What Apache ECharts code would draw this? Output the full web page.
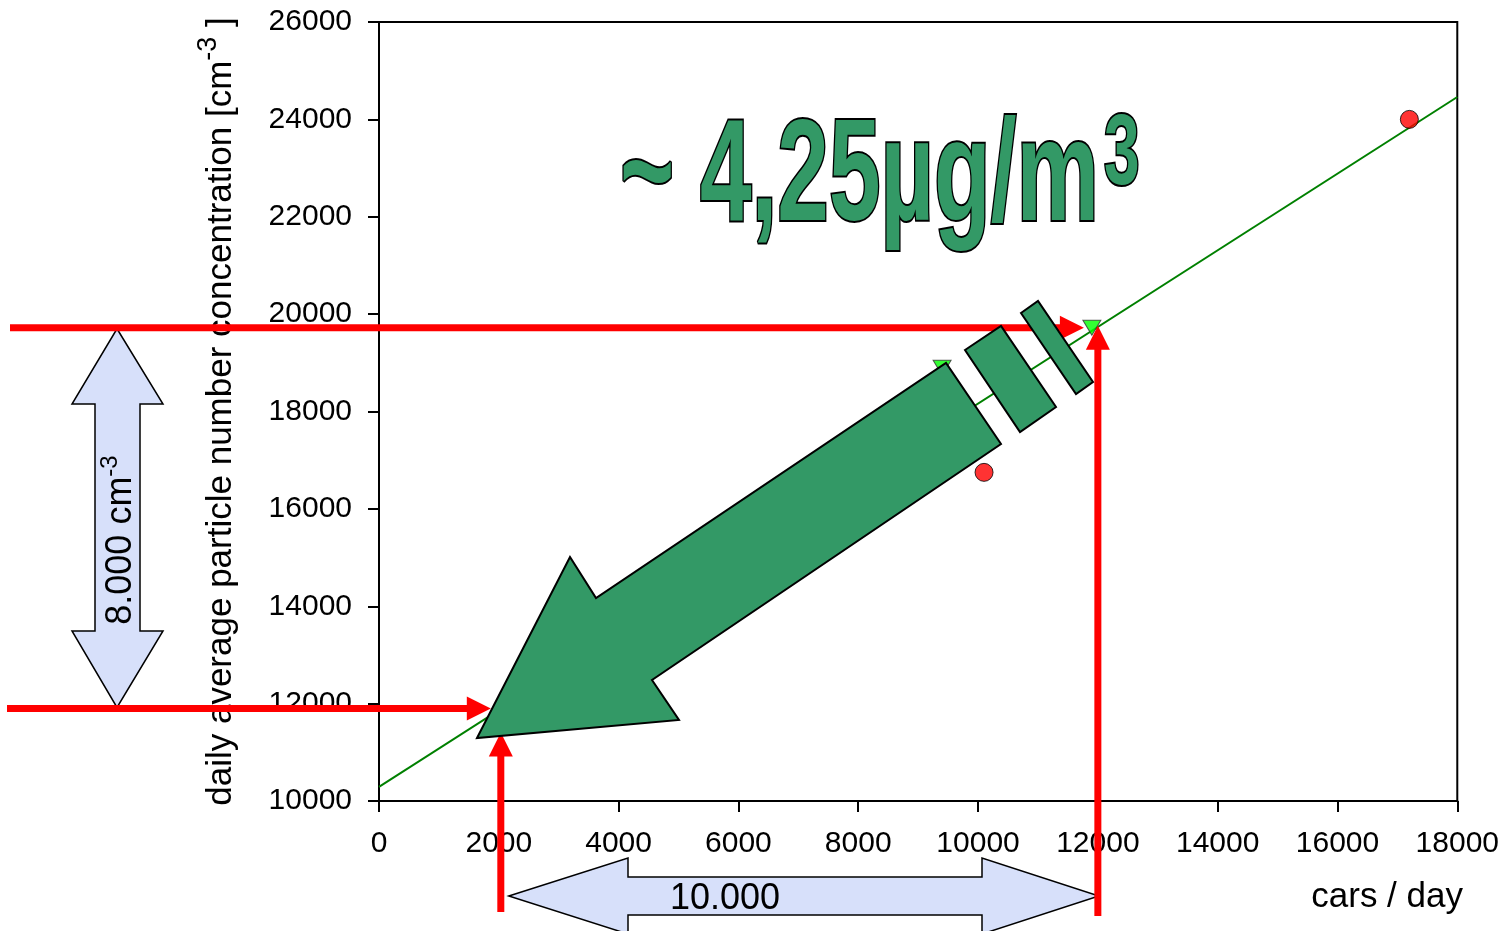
<!DOCTYPE html>
<html>
<head>
<meta charset="utf-8">
<script src="https://cdn.jsdelivr.net/npm/echarts@6/dist/echarts.min.js"></script>
<style>
  html, body { margin: 0; padding: 0; background: #fff; overflow: hidden; }
  #chart { width: 1502px; height: 931px; }
</style>
</head>
<body>
<div id="chart"></div>
<script>
"use strict";

// values
const fitX = [0, 18000];
const fitY = [10290, 24460];
const dotX = [10100, 17200];
const dotY = [16750, 24000];
const triX = [9400, 11900];
const triY = [18900, 19720];
// reference lines: cars/day and the concentration on the fit there
const refCars = [2000, 12000];
const refConc = [11900, 19720];
const xTicks = [0, 18000, 2000];
const yTicks = [10000, 26000, 2000];

const FONT = '"Liberation Sans", Arial, sans-serif';
const RED = '#ff0000';
const SEA = '#339966';
const PALE = '#d7e0fa';

let zip = (xs, ys) => xs.map((x, i) => [x, ys[i]]);
let plain = (v) => String(v);

let chart = echarts.init(document.getElementById('chart'));

chart.setOption({
    animation: false,
    backgroundColor: '#fff',
    grid: { left: 379, right: 42, top: 22, bottom: 130, show: true, borderColor: '#000', borderWidth: 2 },
    xAxis: {
        type: 'value', min: xTicks[0], max: xTicks[1], interval: xTicks[2],
        axisLine: { lineStyle: { color: '#000', width: 2 } },
        axisTick: { show: true, length: 11, lineStyle: { color: '#000', width: 2 } },
        axisLabel: { color: '#000', fontSize: 30, fontFamily: FONT, margin: 28, formatter: plain },
        splitLine: { show: false }
    },
    yAxis: {
        type: 'value', min: yTicks[0], max: yTicks[1], interval: yTicks[2],
        axisLine: { show: true, lineStyle: { color: '#000', width: 2 } },
        axisTick: { show: true, length: 11, lineStyle: { color: '#000', width: 2 } },
        axisLabel: { color: '#000', fontSize: 30, fontFamily: FONT, margin: 27, formatter: plain },
        splitLine: { show: false },
        name: '{a|daily average particle number concentration [cm}{s|-3}{a| ]}',
        nameLocation: 'middle',
        nameRotate: 90,
        nameGap: 131,
        nameTextStyle: {
            rich: {
                a: { fontSize: 35, fontFamily: FONT, color: '#000' },
                s: { fontSize: 27, fontFamily: FONT, color: '#000', padding: [0, 0, 26, 0] }
            }
        }
    },
    series: [
        {
            type: 'line', data: zip(fitX, fitY), symbol: 'none',
            lineStyle: { color: '#008000', width: 2 }, z: 2
        },
        {
            type: 'scatter', data: zip(dotX, dotY), symbol: 'circle', symbolSize: 18,
            itemStyle: { color: RED, borderColor: '#000', borderWidth: 1 }, z: 3
        },
        {
            type: 'scatter', data: zip(triX, triY), symbol: 'triangle', symbolRotate: 180,
            symbolSize: [18, 15],
            itemStyle: { color: '#00ff00', borderColor: '#333', borderWidth: 1 }, z: 3
        }
    ]
});

// annotations placed from the data scale
let px = (x, y) => chart.convertToPixel({ gridIndex: 0 }, [x, y]);
const xL = px(refCars[0], 0)[0];
const xR = px(refCars[1], 0)[0];
const yBot = px(0, refConc[0])[1];
const yTop = px(0, refConc[1])[1];

let redArrow = (x1, y1, x2, y2) => {
    const len = Math.hypot(x2 - x1, y2 - y1), ux = (x2 - x1) / len, uy = (y2 - y1) / len;
    const hl = 24, hw = 12;
    const bx = x2 - ux * hl, by = y2 - uy * hl;
    return [
        { type: 'line', z: 50, shape: { x1: x1, y1: y1, x2: bx + ux * 2, y2: by + uy * 2 },
          style: { stroke: RED, lineWidth: 7 } },
        { type: 'polygon', z: 50, shape: { points: [[x2, y2], [bx - uy * hw, by + ux * hw], [bx + uy * hw, by - ux * hw]] },
          style: { fill: RED } }
    ];
};

let outline = { stroke: '#000', lineWidth: 2 };

let graphics = [].concat(
    redArrow(10, yTop, xR - 14, yTop),
    redArrow(xR, 916, xR, yTop - 2),
    redArrow(7, yBot, xL - 8, yBot),
    redArrow(xL + 2, 912, xL + 2, yBot + 24),
    [
        // vertical double arrow, 8.000 cm-3
        { type: 'polygon', z: 40, shape: { points: [
            [117, yTop + 1], [163, 404], [140, 404], [140, 631], [163, 631], [117, yBot - 1],
            [72, 631], [95, 631], [95, 404], [72, 404]] },
          style: Object.assign({ fill: PALE }, outline, { lineWidth: 1.5 }) },
        { type: 'text', z: 41, x: 121, y: 540, rotation: Math.PI / 2,
          style: { text: '{a|8.000 cm}{s|-3}', align: 'center', verticalAlign: 'middle',
                   rich: { a: { fontSize: 36, fontFamily: FONT, fill: '#000' },
                           s: { fontSize: 24, fontFamily: FONT, fill: '#000', padding: [0, 0, 22, 0] } } } },
        // horizontal double arrow, 10.000
        { type: 'polygon', z: 40, shape: { points: [
            [xL + 10, 896], [628, 858], [628, 877], [982, 877], [982, 858], [xR + 1, 896],
            [982, 934], [982, 915], [628, 915], [628, 934]] },
          style: Object.assign({ fill: PALE }, outline, { lineWidth: 1.5 }) },
        { type: 'text', z: 41, x: 725, y: 899,
          style: { text: '10.000', fontSize: 36, fontFamily: FONT, fill: '#000', align: 'center', verticalAlign: 'middle' } },
        // big arrow pointing down the fit
        { type: 'polygon', z: 60, shape: { points: [
            [477, 738], [570, 557], [596, 598], [946, 363], [1001, 444], [652, 680], [679, 720]] },
          style: Object.assign({ fill: SEA }, outline) },
        { type: 'polygon', z: 60, shape: { points: [[965, 350], [1001, 326], [1056, 407], [1020, 432]] },
          style: Object.assign({ fill: SEA }, outline) },
        { type: 'polygon', z: 60, shape: { points: [[1021, 313], [1038, 301], [1093, 382], [1076, 394]] },
          style: Object.assign({ fill: SEA }, outline) },
        // headline
        { type: 'text', z: 70, x: 620, y: 180, scaleX: 0.64,
          style: { text: '~ 4,25µg/m', fontSize: 145, fontWeight: 'bold', fontFamily: FONT,
                   fill: SEA, stroke: '#000', lineWidth: 4, align: 'left', verticalAlign: 'middle' } },
        { type: 'text', z: 70, x: 1104, y: 156, scaleX: 0.64,
          style: { text: '3', fontSize: 100, fontWeight: 'bold', fontFamily: FONT,
                   fill: SEA, stroke: '#000', lineWidth: 4, align: 'left', verticalAlign: 'middle' } },
        // x axis title
        { type: 'text', z: 41, x: 1463, y: 897,
          style: { text: 'cars / day', fontSize: 35, fontFamily: FONT, fill: '#000', align: 'right', verticalAlign: 'middle' } }
    ]
);

chart.setOption({ graphic: graphics });
console.log('chart and annotations done');
</script>
</body>
</html>
